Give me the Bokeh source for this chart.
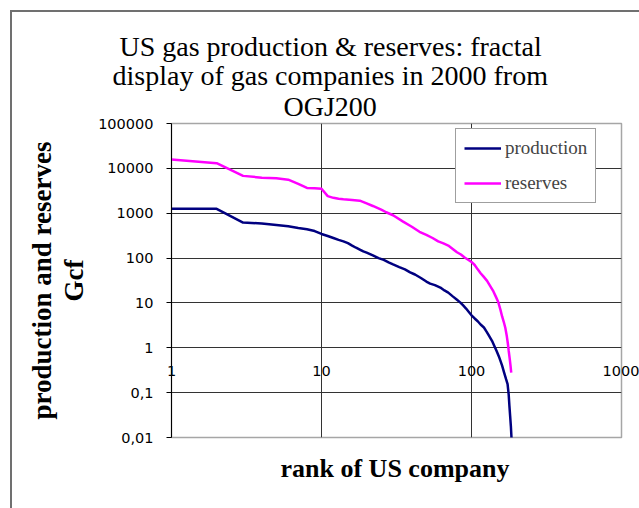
from bokeh.plotting import figure
from bokeh.models import Range1d, FixedTicker, Legend, LegendItem, Title
from bokeh.embed import file_html
from bokeh.resources import INLINE

# ---------------- data ----------------
title_lines = ["US gas production & reserves: fractal",
               "display of gas companies in 2000 from",
               "OGJ200"]
x_label = "rank of US company"
y_label_lines = ["production and reserves", "Gcf"]

x_tick_values = [1, 10, 100, 1000]
x_tick_labels = ["1", "10", "100", "1000"]
y_tick_values = [0.01, 0.1, 1, 10, 100, 1000, 10000, 100000]
y_tick_labels = ["0,01", "0,1", "1", "10", "100", "1000", "10000", "100000"]

production_rank = [1, 2, 3, 4, 5, 6, 7, 8, 9, 10, 11, 12, 13, 14, 15, 16, 17, 18, 19, 20,
                   22, 24, 26, 28, 30, 33, 36, 39, 42, 46, 50, 53, 57, 62, 66, 70, 75, 80,
                   84, 88, 92, 96, 100, 105, 110, 115, 121, 126, 131, 137, 142, 147, 152,
                   156, 160, 165, 170, 174, 177, 179, 181, 183, 185]
production_gcf = [1250, 1250, 620, 590, 545, 510, 470, 440, 400, 345, 310, 280, 255, 236, 215,
                  190, 170, 155, 141, 132, 115, 100, 91, 80, 72, 63, 56, 48, 43, 36, 30, 27,
                  25, 22, 19, 17, 14, 11.8, 10.3, 8.8, 7.5, 6.3, 5.3, 4.5, 3.9, 3.3, 2.84,
                  2.3, 1.85, 1.43, 1.1, 0.85, 0.65, 0.51, 0.40, 0.28, 0.20, 0.155, 0.09,
                  0.05, 0.03, 0.018, 0.009]

reserves_rank = [1, 2, 3, 4, 5, 6, 7, 8, 9, 10, 11, 12, 13, 14, 16, 18, 20, 22, 25, 27, 30,
                 35, 40, 45, 50, 55, 60, 65, 70, 75, 80, 85, 90, 95, 100, 105, 110, 115, 120,
                 127, 133, 140, 145, 151, 156, 160, 164, 168, 172, 175, 177, 180, 182, 184]
reserves_gcf = [15800, 13000, 6800, 6200, 6000, 5600, 4500, 3650, 3600, 3500, 2400, 2200,
                2100, 2050, 1980, 1900, 1650, 1450, 1200, 1050, 900, 650, 500, 385, 330, 280,
                235, 212, 190, 160, 135, 120, 103, 92, 82, 70, 56, 46, 39, 31, 24, 18, 14,
                10.3, 7, 5, 3.8, 2.8, 1.8, 1.2, 0.86, 0.55, 0.4, 0.28]

# ---------------- layout (page px) ----------------
W, H = 639, 508
FL, FR, FT, FB = 171, 621, 123, 437   # plot frame edges
X_AXIS_LABEL_TOP = 365                # top of x tick labels (axis crosses at y=1)

p = figure(width=W, height=H, output_backend="svg", toolbar_location=None,
           x_axis_type="log", y_axis_type="log",
           x_range=Range1d(x_tick_values[0], x_tick_values[-1]),
           y_range=Range1d(y_tick_values[0], y_tick_values[-1]),
           min_border_left=FL, min_border_right=W - FR, min_border_top=FT,
           min_border_bottom=H - FB)
p.title.visible = False
p.background_fill_color = "white"
p.border_fill_alpha = 0
# outer chart frame (left/top edges; the rest lies outside the picture)
p.styles = {"background": "linear-gradient(#707070, #707070) 10px 10px / 2px 100% no-repeat, "
                          "linear-gradient(#707070, #707070) 10px 10px / 100% 2px no-repeat, white"}
p.outline_line_color = "#a6a6a6"
p.outline_line_width = 1.5

# grid (y=1 line doubles as the x-axis line)
p.xgrid.ticker = FixedTicker(ticks=x_tick_values[1:-1])
p.ygrid.ticker = FixedTicker(ticks=y_tick_values[1:-1])
for g in (p.xgrid, p.ygrid):
    g.grid_line_color = "#333333"
    g.grid_line_width = 1

# axes
for ax, vals, labs in ((p.xaxis, x_tick_values, x_tick_labels), (p.yaxis, y_tick_values, y_tick_labels)):
    ax.ticker = FixedTicker(ticks=vals)
    ax.major_label_overrides = {float(v): l for v, l in zip(vals, labs)}
    ax.major_label_text_font = "DejaVu Sans"
    ax.major_label_text_font_size = "14.5px"
    ax.major_label_text_color = "black"
    ax.minor_tick_line_color = None
p.yaxis.major_label_standoff = 13
p.yaxis.major_tick_out = 5
p.yaxis.major_tick_in = 0
p.yaxis.major_tick_line_color = "black"
p.yaxis.axis_line_color = "black"
# x labels sit under the y=1 line
p.xaxis.axis_line_color = None
p.xaxis.major_tick_line_color = None
p.xaxis.major_tick_out = 0
p.xaxis.major_tick_in = 0
p.xaxis.major_label_standoff = -(FB - X_AXIS_LABEL_TOP)

# lines
r_prod = p.line(production_rank, production_gcf, line_color="#000080", line_width=2.5)
r_res = p.line(reserves_rank, reserves_gcf, line_color="#ff00ff", line_width=2.5)

legend = Legend(items=[LegendItem(label="production", renderers=[r_prod]),
                       LegendItem(label="reserves", renderers=[r_res])],
                location=(455 - FL, FB - 203), margin=0, padding=8, spacing=13,
                glyph_width=37, glyph_height=20, label_height=20, label_standoff=4,
                label_text_font="Liberation Serif", label_text_font_size="19px",
                border_line_color="#404040", border_line_width=1.5,
                background_fill_color="white", background_fill_alpha=1)
p.add_layout(legend)

# texts
serif = "Liberation Serif"
title_offsets = [-52, -59, 112]
title_standoffs = [-2, -6, 3]
for txt, off, so in reversed(list(zip(title_lines, title_offsets, title_standoffs))):
    p.add_layout(Title(text=txt, align="left", offset=off, standoff=so,
                       text_font=serif, text_font_style="normal", text_font_size="28px",
                       text_color="black"), "above")

p.add_layout(Title(text=x_label, align="left", offset=280 - FL, standoff=28,
                   text_font=serif, text_font_style="bold", text_font_size="26px",
                   text_color="black"), "below")

for txt, so in reversed(list(zip(y_label_lines, [-12, 13]))):
    p.add_layout(Title(text=txt, align="center", standoff=so,
                       text_font=serif, text_font_style="bold", text_font_size="27px",
                       text_color="black"), "left")

open("out.html", "w").write(file_html(p, INLINE))
